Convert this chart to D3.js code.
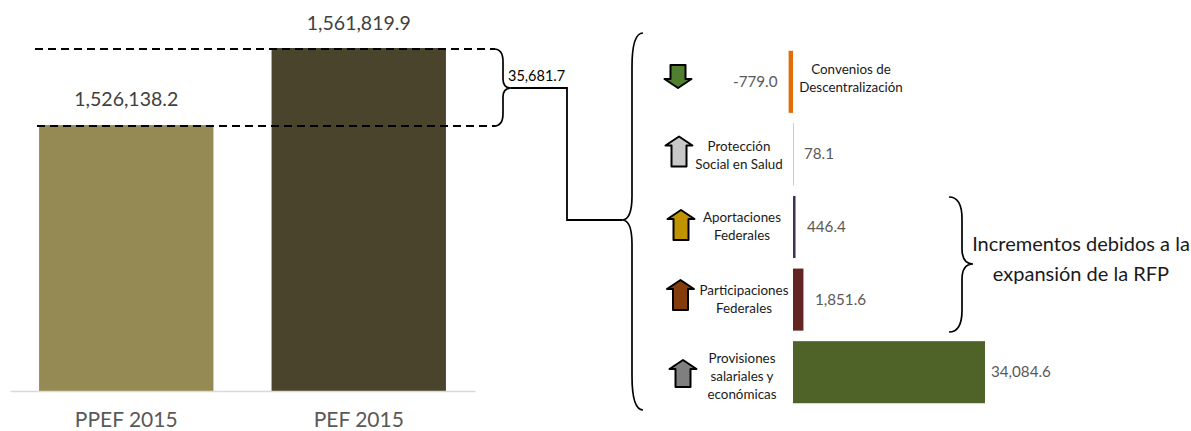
<!DOCTYPE html>
<html>
<head>
<meta charset="utf-8">
<script src="https://cdn.jsdelivr.net/npm/d3@7"></script>
<style>
html, body { margin: 0; padding: 0; background: #fff; }
svg { display: block; font-family: Lato, "Open Sans", sans-serif; }
</style>
</head>
<body>
<script>
// totals
var totalLabels = ["PPEF 2015", "PEF 2015"];
var totalValues = [1526138.2, 1561819.9];
var totalColors = ["#968a54", "#4a442c"];
var difference = 35681.7;

// breakdown of the difference
var parts = ["Convenios de Descentralización", "Protección Social en Salud", "Aportaciones Federales", "Participaciones Federales", "Provisiones salariales y económicas"];
var partValues = [-779.0, 78.1, 446.4, 1851.6, 34084.6];
var partColors = ["#e36c09", "#c3d69b", "#403152", "#632523", "#4f6228"];
var arrowColors = ["#4f7f2f", "#c8c8c8", "#c09400", "#843c0c", "#7f7f7f"];
var arrowDirs = [-1, 1, 1, 1, 1];

// plain hyphen for negatives, as in the picture
var fmt = d3.formatLocale({decimal: ".", thousands: ",", grouping: [3], currency: ["", ""], minus: "-"}).format(",.1f");

var svg = d3.select("body").append("svg").attr("width", 1191).attr("height", 431);

// left chart, value axis does not start at zero
var x0 = d3.scaleBand().domain(totalLabels).range([10, 475]).paddingInner(0.25).paddingOuter(0.125);
var y0 = d3.scaleLinear().domain([1403000, totalValues[1]]).range([391, 48]);

svg.selectAll("rect.total")
  .data(totalValues)
  .enter().append("rect")
  .attr("class", "total")
  .attr("x", function(d, i) { return x0(totalLabels[i]); })
  .attr("y", function(d) { return y0(d); })
  .attr("width", x0.bandwidth())
  .attr("height", function(d) { return y0.range()[0] - y0(d); })
  .attr("fill", function(d, i) { return totalColors[i]; });

svg.selectAll("text.totalValue")
  .data(totalValues)
  .enter().append("text")
  .attr("class", "totalValue")
  .attr("x", function(d, i) { return x0(totalLabels[i]) + x0.bandwidth() / 2; })
  .attr("y", function(d, i) { return y0(d) - (i == 0 ? 19 : 18); })
  .attr("text-anchor", "middle")
  .attr("font-size", 19.5)
  .attr("fill", "#404040")
  .text(fmt);

var axis = svg.append("g")
  .attr("transform", "translate(0,391)")
  .call(d3.axisBottom(x0).tickSize(0).tickPadding(21));
axis.select(".domain").attr("stroke", "#d9d9d9").attr("stroke-width", 1.5);
axis.selectAll("text")
  .attr("font-family", "Lato, 'Open Sans', sans-serif")
  .attr("font-size", 21)
  .attr("fill", "#595959");

// dashed guides at each total
svg.selectAll("line.guide")
  .data(totalValues)
  .enter().append("line")
  .attr("class", "guide")
  .attr("x1", function(d, i) { return i == 0 ? 37 : 35; })
  .attr("x2", 495)
  .attr("y1", function(d) { return y0(d) + 1; })
  .attr("y2", function(d) { return y0(d) + 1; })
  .attr("stroke", "#000")
  .attr("stroke-width", 2)
  .attr("stroke-dasharray", "8 5");

// curly brace: tips point away from the edge ends
function brace(xEdge, xMid, xTip, yTop, yTip, yBot, k) {
  var r = Math.abs(xMid - xEdge) * k;
  var p = d3.path();
  p.moveTo(xEdge, yTop);
  p.quadraticCurveTo(xMid, yTop, xMid, yTop + r * 1.4);
  p.lineTo(xMid, yTip - r);
  p.quadraticCurveTo(xMid, yTip, xTip, yTip);
  p.quadraticCurveTo(xMid, yTip, xMid, yTip + r);
  p.lineTo(xMid, yBot - r * 1.4);
  p.quadraticCurveTo(xMid, yBot, xEdge, yBot);
  return p.toString();
}

var braces = [
  brace(494, 503, 511, y0(totalValues[1]) + 1, 88, y0(totalValues[0]) + 1, 1),
  brace(643, 632, 622, 33, 220, 410, 2.2),
  brace(949, 962, 973, 197, 264, 332, 1.2)
];
svg.selectAll("path.brace")
  .data(braces)
  .enter().append("path")
  .attr("class", "brace")
  .attr("d", function(d) { return d; })
  .attr("fill", "none")
  .attr("stroke", "#000")
  .attr("stroke-width", 1.7);

// connector between the two braces
svg.append("path")
  .attr("d", d3.line()([[511, 88], [567, 88], [567, 220], [622, 220]]))
  .attr("fill", "none")
  .attr("stroke", "#000")
  .attr("stroke-width", 1.8);

svg.append("text")
  .attr("x", 508).attr("y", 81)
  .attr("font-size", 14.5)
  .attr("fill", "#000")
  .text(fmt(difference));

// right chart
var x1 = d3.scaleLinear().domain([0, 34084.6]).range([793, 985]);
var y1 = d3.scaleBand().domain(parts).range([45.5, 408.5]).paddingInner(0.145).paddingOuter(0.0725);

svg.selectAll("rect.part")
  .data(partValues)
  .enter().append("rect")
  .attr("class", "part")
  .attr("x", function(d) { return Math.min(x1(0), x1(d)); })
  .attr("y", function(d, i) { return y1(parts[i]); })
  .attr("width", function(d) { return Math.max(1, Math.abs(x1(d) - x1(0))); })
  .attr("height", y1.bandwidth())
  .attr("fill", function(d, i) { return partColors[i]; });

var valueX = [733, 804, 807, 815, 991];
svg.selectAll("text.partValue")
  .data(partValues)
  .enter().append("text")
  .attr("class", "partValue")
  .attr("x", function(d, i) { return valueX[i]; })
  .attr("y", function(d, i) { return y1(parts[i]) + y1.bandwidth() / 2 + 5; })
  .attr("font-size", 15.2)
  .attr("fill", "#595959")
  .text(fmt);

// category names, broken the way the picture breaks them
var partLines = [
  ["Convenios de", "Descentralización"],
  ["Protección", "Social en Salud"],
  ["Aportaciones", "Federales"],
  ["Participaciones", "Federales"],
  ["Provisiones", "salariales y", "económicas"]
];
var partLabelX = [851, 739, 742, 744, 742];
var partLabelY = [74, 151, 222, 295, 363];

partLines.forEach(function(lines, i) {
  var t = svg.append("text")
    .attr("text-anchor", "middle")
    .attr("font-size", 13.4)
    .attr("fill", "#1a1a1a");
  lines.forEach(function(s, k) {
    t.append("tspan")
      .attr("x", partLabelX[i])
      .attr("y", partLabelY[i] + k * 18)
      .text(s);
  });
});

// block arrows
var arrowX = [678, 679, 681, 680.5, 683];
var arrowY = [76.5, 151.5, 225, 295, 373.5];
var arrowH = [23, 30, 30, 30, 27];
var arrow = d3.line();

arrowColors.forEach(function(c, i) {
  var h = arrowH[i] / 2, w = 13.5, st = 7.5, head = 9;
  var pts = [[0, -h], [w, -h + head], [st, -h + head], [st, h], [-st, h], [-st, -h + head], [-w, -h + head]];
  svg.append("path")
    .attr("d", arrow.x(function(d) { return d[0]; }).y(function(d) { return d[1] * arrowDirs[i]; })(pts) + "Z")
    .attr("transform", "translate(" + arrowX[i] + "," + arrowY[i] + ")")
    .attr("fill", c)
    .attr("stroke", "#000")
    .attr("stroke-width", 2)
    .attr("stroke-linejoin", "round");
});

// note on the right
var note = svg.append("text")
  .attr("text-anchor", "middle")
  .attr("font-size", 20)
  .attr("fill", "#1a1a1a");
note.append("tspan").attr("x", 1081).attr("y", 251).text("Incrementos debidos a la");
note.append("tspan").attr("x", 1081).attr("y", 281).text("expansión de la RFP");
</script>
</body>
</html>
